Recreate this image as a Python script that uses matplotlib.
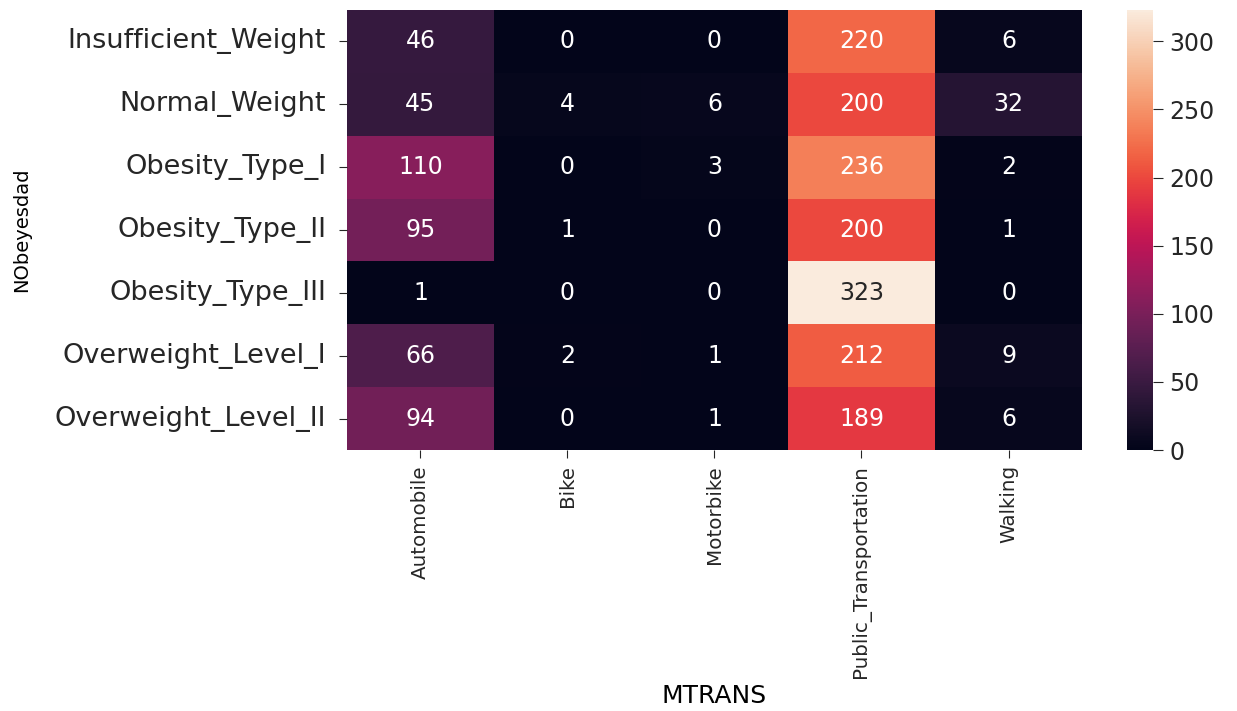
import numpy as np
import pandas as pd
import matplotlib
matplotlib.use("Agg")
import matplotlib.pyplot as plt
import seaborn as sns

# counts of transport mode per obesity class
obesity_levels = ["Insufficient_Weight", "Normal_Weight", "Obesity_Type_I",
                  "Obesity_Type_II", "Obesity_Type_III", "Overweight_Level_I",
                  "Overweight_Level_II"]
transport = ["Automobile", "Bike", "Motorbike", "Public_Transportation", "Walking"]

automobile = [46, 45, 110, 95, 1, 66, 94]
bike = [0, 4, 0, 1, 0, 2, 0]
motorbike = [0, 6, 3, 0, 0, 1, 1]
public_transport = [220, 200, 236, 200, 323, 212, 189]
walking = [6, 32, 2, 1, 0, 9, 6]

ct = pd.DataFrame({
    "Automobile": automobile,
    "Bike": bike,
    "Motorbike": motorbike,
    "Public_Transportation": public_transport,
    "Walking": walking,
}, index=obesity_levels)
ct.index.name = "NObeyesdad"
ct.columns.name = "MTRANS"

plt.rcParams["text.color"] = "#262626"
plt.rcParams["xtick.color"] = "#262626"
plt.rcParams["ytick.color"] = "#262626"

fig = plt.figure(figsize=(12.37, 7.11), dpi=100)
ax = fig.add_axes([0.2805, 0.367, 0.5942, 0.619])
cax = fig.add_axes([0.911, 0.367, 0.021, 0.619])

sns.heatmap(ct, annot=True, fmt="d", ax=ax, cbar_ax=cax,
            annot_kws={"fontsize": 17})

ax.tick_params(axis="y", labelsize=19.5, length=6, pad=9)
ax.tick_params(axis="x", labelsize=14.3, length=6, pad=5)
for lbl in ax.get_xticklabels():
    lbl.set_rotation(90)
for lbl in ax.get_yticklabels():
    lbl.set_rotation(0)

ax.set_ylabel("NObeyesdad", fontsize=14, labelpad=17)
ax.set_xlabel("MTRANS", fontsize=18, labelpad=4)

cax.tick_params(labelsize=17, length=7, pad=5)

fig.savefig("out.png", dpi=100)
